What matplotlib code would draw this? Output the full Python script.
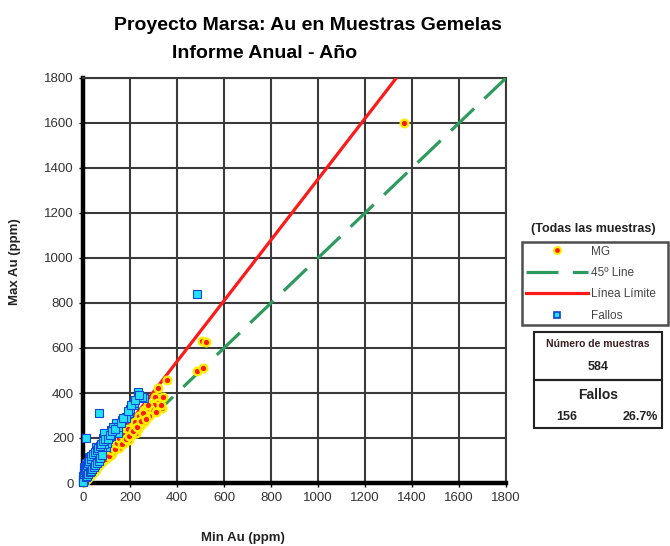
import numpy as np
import matplotlib.pyplot as plt
from matplotlib.patches import Rectangle
from matplotlib.lines import Line2D

plt.rcParams['font.family'] = ['Liberation Sans', 'DejaVu Sans']

# Muestras gemelas que pasan (min, max) en ppm
mg_min = [1365, 505, 525, 485, 510, 359, 321, 342, 308, 317, 338, 296, 258, 274, 232,
          224, 194, 152, 290, 280, 245, 265, 300, 210, 185, 170, 130, 120, 110, 100,
          90, 80, 70, 60, 50, 45, 40, 35, 30, 25, 20, 15, 10, 8, 5, 3, 140, 160, 175,
          200, 215, 235, 250, 260, 285, 310, 150, 125, 95, 65, 55, 100, 115, 135, 205,
          180, 240, 330, 270, 225, 190,
          12, 18, 22, 28, 33, 38, 43, 48, 53, 58, 63, 68, 73, 78, 85, 88, 93, 105, 112,
          118, 128, 138, 145, 155, 165, 172, 182, 195, 212, 220, 230, 248, 255, 268, 278]
mg_max = [1600, 630, 625, 500, 510, 458, 422, 382, 382, 355, 333, 316, 324, 293, 280,
          222, 191, 156, 350, 300, 260, 300, 345, 245, 215, 200, 145, 125, 140, 110,
          105, 95, 80, 72, 62, 50, 48, 40, 38, 30, 24, 18, 12, 9, 6, 3, 170, 190, 180,
          230, 265, 240, 290, 270, 330, 315, 175, 135, 120, 85, 60, 125, 150, 160, 210,
          225, 300, 345, 330, 255, 240,
          14, 21, 27, 33, 37, 45, 52, 58, 66, 70, 75, 84, 90, 88, 100, 112, 108, 130, 120,
          145, 160, 150, 180, 200, 175, 215, 195, 210, 230, 270, 250, 275, 310, 285, 345]

# Fallos: muestras por encima de la linea limite
fa_min = [485, 68, 13, 232, 258, 215, 194, 182, 139, 118, 110, 84, 55, 97, 25, 13,
          232, 253, 215, 182, 127, 148, 89, 200, 165, 150, 120, 100, 75, 60, 45, 35,
          30, 20, 15, 10, 5, 3, 2, 40, 50, 65, 70, 80, 90, 25, 18, 8, 12, 55, 42, 28,
          38, 60, 48, 6, 4, 2, 1, 8, 20, 30, 0, 1,
          3, 5, 7, 10, 14, 18, 22, 26, 32, 36, 44, 52, 58, 64, 72, 78, 86, 95, 105, 115,
          125, 135, 160, 170, 190, 205, 220, 240, 12, 16, 22, 28, 34, 40, 46, 52, 58, 66,
          74, 82]
fa_max = [840, 311, 200, 400, 378, 347, 311, 293, 267, 236, 204, 200, 160, 160, 116, 89,
          404, 382, 355, 289, 249, 222, 222, 330, 280, 250, 210, 180, 150, 130, 110, 95,
          75, 60, 45, 35, 25, 15, 8, 85, 100, 120, 140, 160, 175, 55, 50, 30, 40, 120, 70, 60,
          64, 100, 78, 70, 45, 30, 20, 55, 95, 110, 5, 3,
          40, 50, 60, 65, 72, 80, 88, 98, 105, 120, 130, 140, 148, 155, 165, 175, 185, 195,
          195, 215, 230, 240, 265, 290, 320, 345, 370, 390, 25, 32, 42, 48, 55, 62, 72, 82,
          90, 100, 110, 125]

n_muestras = 584
n_fallos = 156
pendiente_limite = 1.35
lim = 1800
ticks = np.arange(0, 2000, 200)

fig = plt.figure(figsize=(6.7, 5.46), dpi=100)
ax = fig.add_axes([83 / 670, 1 - 483 / 546, 423 / 670, 405 / 546])

# lineas de referencia
ax.plot([0, lim], [0, lim], color='#2e9a5e', lw=2.3, dashes=(10, 4.5), zorder=3)
ax.plot([0, lim / pendiente_limite], [0, lim], color='#ff1a1a', lw=2.3, zorder=3)

ax.plot(mg_min, mg_max, ls='none', marker='o', ms=5.5, mfc='#ff1a00', mec='#ffee00',
        mew=1.7, zorder=4, clip_on=False)
ax.plot(fa_min, fa_max, ls='none', marker='s', ms=5.5, mfc='#22e0f5', mec='#1248d8',
        mew=0.8, zorder=5, clip_on=False)

ax.set_xlim(0, lim)
ax.set_ylim(0, lim)
ax.set_xticks(ticks)
ax.set_yticks(ticks)
ax.grid(True, color='#3a3a3a', lw=1.5)
ax.set_axisbelow(True)
for s in ['left', 'bottom']:
    ax.spines[s].set_linewidth(3.2)
    ax.spines[s].set_color('black')
for s in ['top', 'right']:
    ax.spines[s].set_linewidth(1.5)
    ax.spines[s].set_color('#3a3a3a')
ax.tick_params(labelsize=9.5, labelcolor='#333333', length=3, width=1)

fig.text(308 / 670, 1 - 25 / 546, 'Proyecto Marsa: Au en Muestras Gemelas',
         ha='center', va='center', fontsize=14, fontweight='bold')
fig.text(265 / 670, 1 - 53 / 546, 'Informe Anual - Año',
         ha='center', va='center', fontsize=14, fontweight='bold')
fig.text(243 / 670, 1 - 538 / 546, 'Min Au (ppm)', ha='center', va='center',
         fontsize=9.5, fontweight='bold', color='#222222')
fig.text(15 / 670, 1 - 262 / 546, 'Max Au (ppm)', ha='center', va='center',
         rotation=90, fontsize=9.5, fontweight='bold', color='#222222')

# leyenda
handles = [
    Line2D([], [], ls='none', marker='o', ms=5, mfc='#ff1a00', mec='#ffee00', mew=1.5),
    Line2D([], [], color='#2e9a5e', lw=2.3, dashes=(10, 4.5)),
    Line2D([], [], color='#ff1a1a', lw=2.3),
    Line2D([], [], ls='none', marker='s', ms=5, mfc='#22e0f5', mec='#0a3fd0', mew=1.2),
]
labels = ['MG', '45º Line', 'Línea Límite', 'Fallos']
fig.text(593 / 670, 1 - 229 / 546, '(Todas las muestras)', ha='center', va='center',
         fontsize=9, fontweight='bold', color='#222222')
leg = fig.legend(handles, labels, loc='upper left',
                 bbox_to_anchor=(522 / 670, 1 - 328 / 546, 146 / 670, 86 / 546),
                 mode='expand', borderaxespad=0, fontsize=8.5, handlelength=5.3,
                 handletextpad=0.25, labelspacing=0.8, borderpad=0.3,
                 fancybox=False, edgecolor='#222222', labelcolor='#444444')
leg.get_frame().set_linewidth(1.8)

# cuadro de estadisticas
for y0, y1 in [(332, 380), (380, 428)]:
    fig.patches.append(Rectangle((534 / 670, 1 - y1 / 546), 128 / 670, (y1 - y0) / 546,
                                 transform=fig.transFigure, fill=False,
                                 edgecolor='#222222', lw=1.5))
fig.text(598 / 670, 1 - 344 / 546, 'Número de muestras', ha='center', va='center',
         fontsize=7.5, fontweight='bold', color='#3a2020')
fig.text(598 / 670, 1 - 367 / 546, str(n_muestras), ha='center', va='center',
         fontsize=9, fontweight='bold', color='#222222')
fig.text(598 / 670, 1 - 395 / 546, 'Fallos', ha='center', va='center',
         fontsize=10, fontweight='bold', color='#222222')
fig.text(567 / 670, 1 - 417 / 546, str(n_fallos), ha='center', va='center',
         fontsize=9, fontweight='bold', color='#222222')
fig.text(640 / 670, 1 - 417 / 546, f'{100 * n_fallos / n_muestras:.1f}%', ha='center',
         va='center', fontsize=9, fontweight='bold', color='#222222')

fig.savefig('out.png', dpi=100)
